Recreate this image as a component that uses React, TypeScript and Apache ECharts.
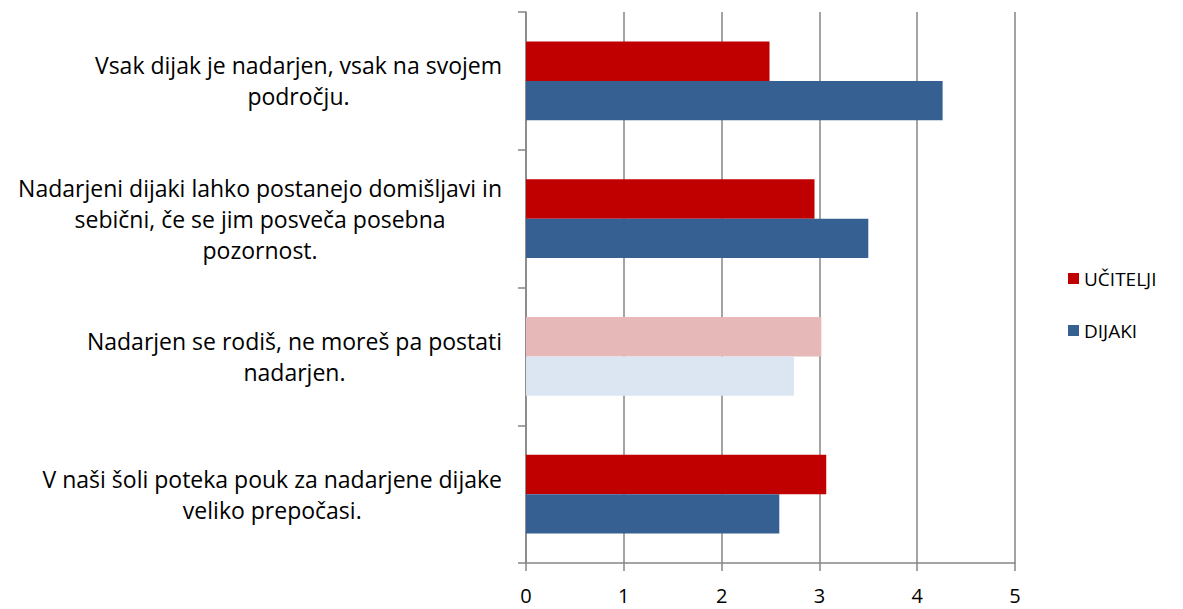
import React, { useEffect, useRef } from "react";
import * as echarts from "echarts";

const categories = [
  "Vsak dijak je nadarjen, vsak na svojem\npodročju.",
  "Nadarjeni dijaki lahko postanejo domišljavi in\nsebični, če se jim posveča posebna\npozornost.",
  "Nadarjen se rodiš, ne moreš pa postati\nnadarjen.",
  "V naši šoli poteka pouk za nadarjene dijake\nveliko prepočasi.",
];
const seriesNames = ["UČITELJI", "DIJAKI"];
const teachers = [2.49, 2.95, 3.02, 3.07];
const students = [4.26, 3.5, 2.74, 2.59];
const xTicks = [0, 1, 2, 3, 4, 5];
const highlighted = 2;

const FONT = "Open Sans";
const GRAY = "#868686";

export default function App() {
  const ref = useRef<HTMLDivElement>(null);
  useEffect(() => {
    if (!ref.current) return;
    const chart = echarts.init(ref.current, null, { renderer: "svg" });
    const mk = (vals: number[], color: string, light: string) =>
      vals.map((v, i) => ({
        value: v,
        itemStyle: { color: i === highlighted ? light : color },
      }));
    chart.setOption({
      animation: false,
      grid: { left: 526, right: 168, top: 12, bottom: 46, containLabel: false },
      legend: {
        orient: "vertical",
        left: 1063,
        top: 264,
        icon: "rect",
        itemWidth: 11,
        itemHeight: 11,
        itemGap: 33,
        data: seriesNames,
        textStyle: { fontFamily: FONT, fontSize: 19, color: "#000" },
      },
      xAxis: {
        type: "value",
        min: xTicks[0],
        max: xTicks[xTicks.length - 1],
        interval: 1,
        axisLine: { show: true, lineStyle: { color: GRAY, width: 1.5 } },
        axisTick: { show: true, length: 8, lineStyle: { color: GRAY, width: 1.5 } },
        splitLine: { show: true, lineStyle: { color: GRAY, width: 1.5 } },
        axisLabel: { fontFamily: FONT, fontSize: 20, color: "#000", margin: 22 },
      },
      yAxis: {
        type: "category",
        inverse: true,
        data: categories,
        axisLine: { show: true, lineStyle: { color: GRAY, width: 1.5 } },
        axisTick: { show: true, length: 8, lineStyle: { color: GRAY, width: 1.5 } },
        axisLabel: {
          margin: 24,
          align: "right",
          formatter: (v: string) =>
            v
              .split("\n")
              .map((l) => `{c|${l}}`)
              .join("\n"),
          rich: {
            c: {
              align: "center",
              fontFamily: FONT,
              fontSize: 23,
              lineHeight: 31,
              color: "#000",
            },
          },
        },
      },
      series: [
        {
          name: seriesNames[0],
          type: "bar",
          barGap: "0%",
          barCategoryGap: "43%",
          itemStyle: { color: "#C00000" },
          data: mk(teachers, "#C00000", "#E6B9B8"),
        },
        {
          name: seriesNames[1],
          type: "bar",
          barGap: "0%",
          barCategoryGap: "43%",
          itemStyle: { color: "#376092" },
          data: mk(students, "#376092", "#DCE6F2"),
        },
      ],
    });
    return () => chart.dispose();
  }, []);
  return (
    <div
      ref={ref}
      style={{ position: "absolute", left: 0, top: 0, width: 1183, height: 609 }}
    />
  );
}
